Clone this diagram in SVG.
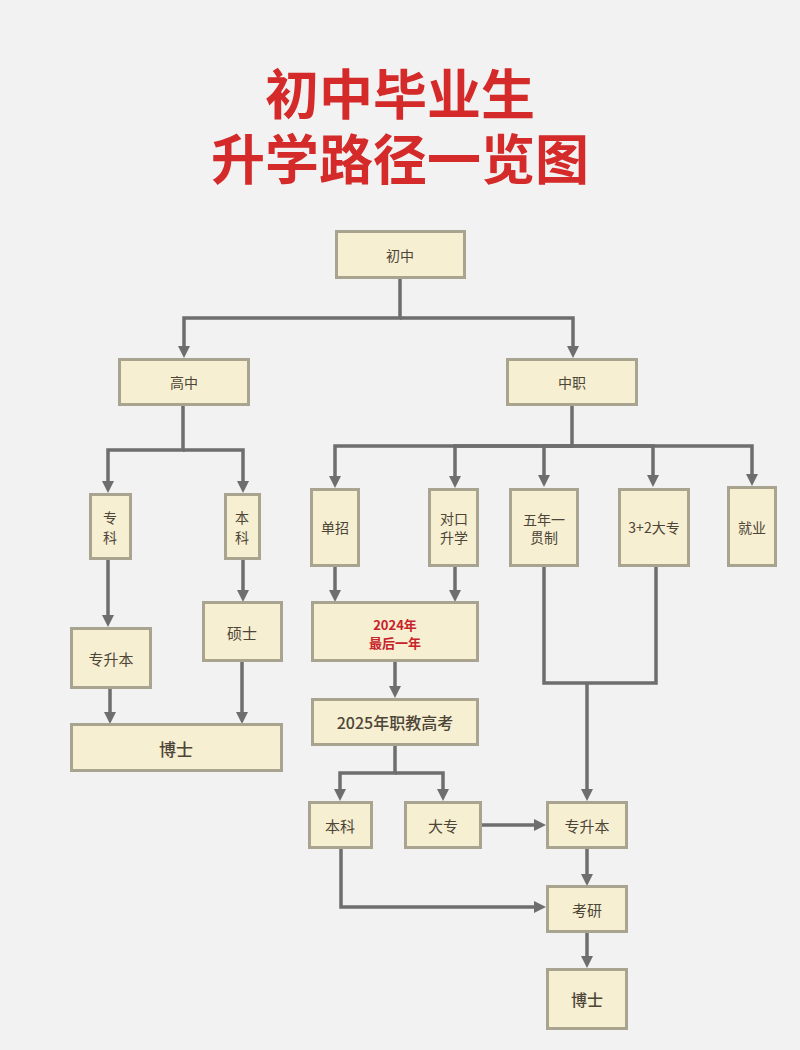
<svg xmlns="http://www.w3.org/2000/svg" width="800" height="1050" viewBox="0 0 800 1050">
<defs>
<style>
.bx{fill:#f6efd2;stroke:#a9a48f;stroke-width:3}
.t{font-family:"Noto Sans CJK SC","Noto Sans",sans-serif;fill:#4d4537;text-anchor:middle;dominant-baseline:central;font-size:14px}
.title{font-family:"Noto Sans CJK SC","Noto Sans",sans-serif;fill:#d52a2a;font-weight:700;font-size:54px;text-anchor:middle}
.c{fill:none;stroke:#6e6e6e;stroke-width:3.5}
.a{marker-end:url(#ah)}
</style>
<marker id="ah" viewBox="0 0 12 12" refX="4" refY="6" markerWidth="12" markerHeight="12" markerUnits="userSpaceOnUse" orient="auto">
<path d="M0,0 L12,6 L0,12 z" fill="#6e6e6e"/>
</marker>
</defs>
<rect width="800" height="1050" fill="#f2f2f2"/>
<g id="title">
<text class="title" x="400" y="115">初中毕业生</text>
<text class="title" x="400" y="180">升学路径一览图</text>
</g>
<g id="connectors">
<path class="c a" d="M400,279 V318 H184 V350"/>
<path class="c a" d="M400,318 H573 V350"/>
<path class="c a" d="M183,406 V450 H108 V485"/>
<path class="c a" d="M183,450 H243 V485"/>
<path class="c a" d="M572,406 V446 H335 V480"/>
<path class="c a" d="M572,446 H455 V480"/>
<path class="c a" d="M572,446 H544 V479"/>
<path class="c a" d="M572,446 H653 V479"/>
<path class="c a" d="M572,446 H752 V478"/>
<path class="c a" d="M108,560 V619"/>
<path class="c a" d="M243,560 V594"/>
<path class="c a" d="M335,566 V594"/>
<path class="c a" d="M455,566 V594"/>
<path class="c a" d="M110,688 V716"/>
<path class="c a" d="M242,662 V716"/>
<path class="c a" d="M395,662 V690"/>
<path class="c a" d="M395,745 V773 H340 V793"/>
<path class="c a" d="M395,773 H443 V793"/>
<path class="c a" d="M481,825 H538"/>
<path class="c" d="M544,567 V683 H656 V567"/>
<path class="c a" d="M587,683 V793"/>
<path class="c a" d="M587,848 V878"/>
<path class="c a" d="M341,848 V907 H538"/>
<path class="c a" d="M587,932 V960"/>
</g>
<g id="n-chuzhong"><rect class="bx" x="336.5" y="231.5" width="128" height="46"/><text class="t" x="400" y="255">初中</text></g>
<g id="n-gaozhong"><rect class="bx" x="119.5" y="359.5" width="129" height="45"/><text class="t" x="184" y="382">高中</text></g>
<g id="n-zhongzhi"><rect class="bx" x="507.5" y="359.5" width="129" height="45"/><text class="t" x="572" y="382">中职</text></g>
<g id="n-zhuanke"><rect class="bx" x="90.5" y="494.5" width="40" height="64"/><text class="t" x="110" y="517">专</text><text class="t" x="110" y="537">科</text></g>
<g id="n-benke1"><rect class="bx" x="225.5" y="494.5" width="34" height="64"/><text class="t" x="242" y="517">本</text><text class="t" x="242" y="537">科</text></g>
<g id="n-danzhao"><rect class="bx" x="311.5" y="489.5" width="47" height="76"/><text class="t" x="335" y="527">单招</text></g>
<g id="n-duikou"><rect class="bx" x="429.5" y="489.5" width="48" height="76"/><text class="t" x="454" y="518">对口</text><text class="t" x="454" y="537">升学</text></g>
<g id="n-wunian"><rect class="bx" x="510.5" y="489.5" width="67" height="76"/><text class="t" x="544" y="519">五年一</text><text class="t" x="544" y="537">贯制</text></g>
<g id="n-sanjiaer"><rect class="bx" x="619.5" y="489.5" width="69" height="76"/><text class="t" x="654" y="527">3+2大专</text></g>
<g id="n-jiuye"><rect class="bx" x="728.5" y="487.5" width="47" height="78"/><text class="t" x="752" y="527">就业</text></g>
<g id="n-zhuanshengben1"><rect class="bx" x="71.5" y="628.5" width="79" height="59"/><text class="t" x="111" y="658" style="font-size:15px">专升本</text></g>
<g id="n-shuoshi"><rect class="bx" x="203.5" y="602.5" width="78" height="58"/><text class="t" x="242" y="632" style="font-size:15px">硕士</text></g>
<g id="n-2024"><rect class="bx" x="312.5" y="602.5" width="165" height="58"/><text class="t" x="395" y="624" style="fill:#c8222a;font-weight:700;font-size:13px">2024年</text><text class="t" x="395" y="642" style="fill:#c8222a;font-weight:700;font-size:13px">最后一年</text></g>
<g id="n-boshi1"><rect class="bx" x="71.5" y="724.5" width="210" height="46"/><text class="t" x="176" y="748" style="font-size:17px;font-weight:500">博士</text></g>
<g id="n-2025"><rect class="bx" x="312.5" y="699.5" width="165" height="45"/><text class="t" x="395" y="722" style="font-size:16px;font-weight:500">2025年职教高考</text></g>
<g id="n-benke2"><rect class="bx" x="309.5" y="802.5" width="62" height="45"/><text class="t" x="340" y="825" style="font-size:15px">本科</text></g>
<g id="n-dazhuan"><rect class="bx" x="405.5" y="802.5" width="75" height="45"/><text class="t" x="443" y="825" style="font-size:15px">大专</text></g>
<g id="n-zhuanshengben2"><rect class="bx" x="547.5" y="802.5" width="79" height="45"/><text class="t" x="587" y="825" style="font-size:15px">专升本</text></g>
<g id="n-kaoyan"><rect class="bx" x="547.5" y="886.5" width="79" height="45"/><text class="t" x="587" y="909" style="font-size:15px">考研</text></g>
<g id="n-boshi2"><rect class="bx" x="547.5" y="969.5" width="79" height="59"/><text class="t" x="587" y="999" style="font-size:16px;font-weight:500">博士</text></g>
</svg>
